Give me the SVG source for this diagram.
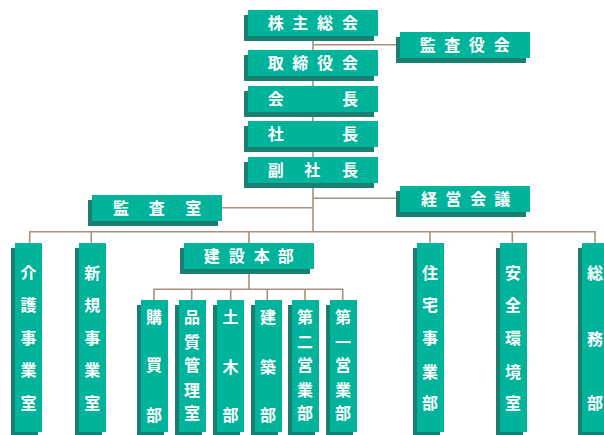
<svg xmlns="http://www.w3.org/2000/svg" width="604" height="435" viewBox="0 0 604 435">
<style>
.f{fill:#00b39b}
.s{fill:#1a7f71}
.t{fill:#ffffff;font-family:"Noto Sans CJK JP","Noto Sans CJK SC",sans-serif;font-size:16px;font-weight:bold;text-anchor:middle}
.c{stroke:#a8907e;stroke-width:1.6;fill:none}
</style>
<rect width="604" height="435" fill="#ffffff"/>
<g id="connectors" class="c">
<path d="M313 36V231.7"/>
<path d="M313 44.7H397"/>
<path d="M313 198.3H397"/>
<path d="M222 207.7H313"/>
<path d="M29.7 242.7V231.7H595V242.7"/>
<path d="M91.3 231.7V242.7M249 231.7V243M430 231.7V242.7M512.3 231.7V242.7"/>
<path d="M249 269V289.3"/>
<path d="M154 300V289.3H342.7V300"/>
<path d="M191.7 289.3V300M230.7 289.3V300M267.3 289.3V300M305 289.3V300"/>
</g>
<g id="kabunushi"><rect class="s" x="244" y="15" width="130" height="26"/><rect class="f" x="248" y="10" width="130" height="26"/><text class="t" x="275.7 300.3 325 350" y="29">株主総会</text></g>
<g id="kansayakukai"><rect class="s" x="396" y="37" width="130" height="26"/><rect class="f" x="400" y="32" width="130" height="26"/><text class="t" x="427.7 452.3 476.7 501.7" y="51">監査役会</text></g>
<g id="torishimariyakukai"><rect class="s" x="244" y="55" width="130" height="26"/><rect class="f" x="248" y="50" width="130" height="26"/><text class="t" x="275.7 300.3 325 350" y="69">取締役会</text></g>
<g id="kaicho"><rect class="s" x="244" y="91" width="130" height="26"/><rect class="f" x="248" y="86" width="130" height="26"/><text class="t" x="275.7 350" y="105">会長</text></g>
<g id="shacho"><rect class="s" x="244" y="126" width="130" height="26"/><rect class="f" x="248" y="121" width="130" height="26"/><text class="t" x="275.7 350" y="140">社長</text></g>
<g id="fukushacho"><rect class="s" x="244" y="162" width="130" height="26"/><rect class="f" x="248" y="157" width="130" height="26"/><text class="t" x="275.7 312.3 350" y="176">副社長</text></g>
<g id="keieikaigi"><rect class="s" x="396" y="191" width="130" height="26"/><rect class="f" x="400" y="186" width="130" height="26"/><text class="t" x="429 453.3 478.3 502.3" y="205">経営会議</text></g>
<g id="kansashitsu"><rect class="s" x="88" y="200" width="130" height="26"/><rect class="f" x="92" y="195" width="130" height="26"/><text class="t" x="121 156.7 193.3" y="214">監査室</text></g>
<g id="kensetsuhonbu"><rect class="s" x="180" y="248" width="130" height="26"/><rect class="f" x="184" y="243" width="130" height="26"/><text class="t" x="211.7 236.7 261.7 285.7" y="262">建設本部</text></g>
<g id="kaigo"><rect class="s" x="11" y="248" width="27" height="189"/><rect class="f" x="15" y="243" width="27" height="189"/><text class="t" x="28.5 28.5 28.5 28.5 28.5" y="279 311 344 376 409">介護事業室</text></g>
<g id="shinki"><rect class="s" x="75" y="248" width="27" height="189"/><rect class="f" x="79" y="243" width="27" height="189"/><text class="t" x="92.3 92.3 92.3 92.3 92.3" y="279 311 344 376 409">新規事業室</text></g>
<g id="jutaku"><rect class="s" x="413" y="248" width="27" height="189"/><rect class="f" x="417" y="243" width="27" height="189"/><text class="t" x="430 430 430 430 430" y="279 311 344 378 409">住宅事業部</text></g>
<g id="anzen"><rect class="s" x="496" y="248" width="27" height="189"/><rect class="f" x="500" y="243" width="27" height="189"/><text class="t" x="513 513 513 513 513" y="279 311 344 378 409">安全環境室</text></g>
<g id="somu"><rect class="s" x="578" y="248" width="27" height="189"/><rect class="f" x="582" y="243" width="27" height="189"/><text class="t" x="595 595 595" y="279 345 409">総務部</text></g>
<g id="kobai"><rect class="s" x="137" y="305" width="27" height="132"/><rect class="f" x="141" y="300" width="27" height="132"/><text class="t" x="154 154 154" y="323 371 421">購買部</text></g>
<g id="hinshitsu"><rect class="s" x="175" y="305" width="27" height="132"/><rect class="f" x="179" y="300" width="27" height="132"/><text class="t" x="192 192 192 192 192" y="323 348 371 396 419">品質管理室</text></g>
<g id="doboku"><rect class="s" x="213" y="305" width="27" height="132"/><rect class="f" x="217" y="300" width="27" height="132"/><text class="t" x="230.5 230.5 230.5" y="323 373 421">土木部</text></g>
<g id="kenchiku"><rect class="s" x="251" y="305" width="27" height="132"/><rect class="f" x="255" y="300" width="27" height="132"/><text class="t" x="268 268 268" y="323 373 421">建築部</text></g>
<g id="daini"><rect class="s" x="288" y="305" width="27" height="132"/><rect class="f" x="292" y="300" width="27" height="132"/><text class="t" x="305 305 305 305 305" y="323 348 371 396 419">第二営業部</text></g>
<g id="daiichi"><rect class="s" x="326" y="305" width="27" height="132"/><rect class="f" x="330" y="300" width="27" height="132"/><text class="t" x="343 343 343 343 343" y="323 348 371 396 419">第一営業部</text></g>
</svg>
